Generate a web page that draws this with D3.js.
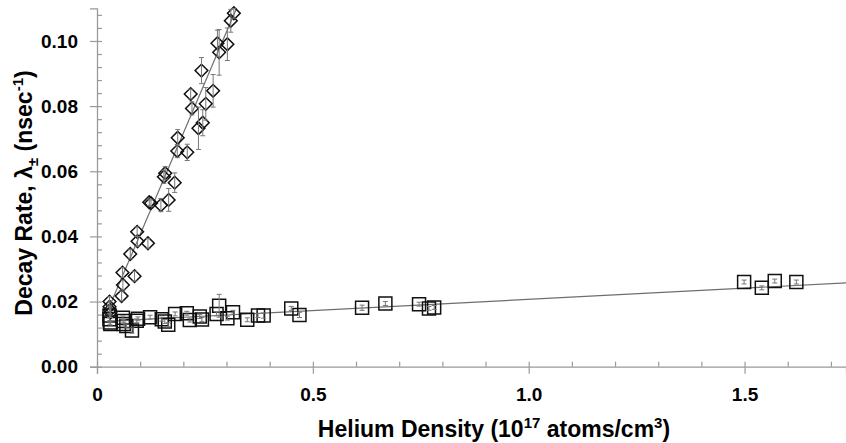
<!DOCTYPE html>
<html>
<head>
<meta charset="utf-8">
<script src="https://cdn.jsdelivr.net/npm/d3@7"></script>
<style>
  body { margin: 0; background: #fff; }
  svg { display: block; font-family: "Liberation Sans", Arial, sans-serif; }
</style>
</head>
<body>
<svg width="846" height="443"></svg>
<script>
// fast decay series (diamonds): density, rate, error
const fastX = [0.317, 0.310, 0.279, 0.302, 0.283, 0.242, 0.269, 0.217, 0.252, 0.220, 0.245,
  0.235, 0.187, 0.186, 0.209, 0.158, 0.155, 0.180, 0.121, 0.125, 0.148, 0.166, 0.093, 0.094,
  0.118, 0.077, 0.059, 0.087, 0.060, 0.057, 0.029, 0.029, 0.030, 0.031]
const fastY = [0.1085, 0.1062, 0.0993, 0.0990, 0.0965, 0.0909, 0.0847, 0.0837, 0.0807, 0.0793, 0.0749,
  0.0732, 0.0703, 0.0662, 0.0658, 0.0594, 0.0583, 0.0565, 0.0505, 0.0502, 0.0496, 0.0512, 0.0414, 0.0385,
  0.0379, 0.0346, 0.0289, 0.0278, 0.0251, 0.0217, 0.0200, 0.0184, 0.0174, 0.0166]
const fastErr = [0.0015, 0.0035, 0.004, 0.005, 0.007, 0.004, 0.005, 0.0015, 0.005, 0.002, 0.004,
  0.0065, 0.0025, 0.002, 0.0025, 0.002, 0.002, 0.003, 0.001, 0.001, 0.002, 0.0035, 0.0015, 0.0015,
  0.0015, 0.0015, 0.0015, 0.0015, 0.0015, 0.0015, 0.0015, 0.0015, 0.0015, 0.0015]

// slow decay series (squares)
const slowX = [0.029, 0.029, 0.030, 0.031, 0.060, 0.062, 0.062, 0.068, 0.081, 0.092, 0.095,
  0.123, 0.150, 0.157, 0.165, 0.181, 0.208, 0.215, 0.238, 0.243, 0.283, 0.277, 0.302, 0.315,
  0.348, 0.373, 0.386, 0.450, 0.469, 0.614, 0.668, 0.746, 0.769, 0.781, 1.499, 1.540, 1.570, 1.620]
const slowY = [0.0157, 0.0146, 0.0136, 0.0131, 0.0150, 0.0140, 0.0131, 0.0125, 0.0111, 0.0141, 0.0147,
  0.0152, 0.0146, 0.0139, 0.0129, 0.0162, 0.0164, 0.0143, 0.0154, 0.0145, 0.0187, 0.0162, 0.0149, 0.0167,
  0.0144, 0.0157, 0.0157, 0.0179, 0.0159, 0.0181, 0.0194, 0.0192, 0.0179, 0.0182, 0.0260, 0.0242, 0.0263, 0.0260]
const slowErr = [0.0006, 0.0006, 0.0006, 0.0006, 0.0006, 0.0006, 0.0006, 0.0006, 0.0008, 0.0006, 0.0006,
  0.0006, 0.0006, 0.0006, 0.0006, 0.0006, 0.0006, 0.0006, 0.0006, 0.0006, 0.0035, 0.0006, 0.0006, 0.0006,
  0.0006, 0.0006, 0.0008, 0.0006, 0.0008, 0.0008, 0.0006, 0.0006, 0.0006, 0.0006, 0.0006, 0.0006, 0.0006, 0.0006]

// linear fits: [intercept, slope, xStart, xEnd]
const fastFit = [0.0095, 0.311, 0.029, 0.3235]
const slowFit = [0.0138, 0.00688, 0.029, 1.735]

const yTicks = [0, 0.02, 0.04, 0.06, 0.08, 0.10]
const xTicks = [0, 0.5, 1.0, 1.5]

var svg = d3.select("svg")

var x = d3.scaleLinear().domain([0, 1.735]).range([97, 846])
var y = d3.scaleLinear().domain([0, 0.110]).range([366.7, 8.4])

var axisColor = "#9a9a9a"

// y axis: major ticks outside, minor ticks inside
var yMinor = svg.append("g")
  .attr("transform", "translate(97,0)")
  .call(d3.axisLeft(y).tickValues(d3.range(0, 0.1101, 0.004)).tickSize(-5).tickFormat(""))
var yMajor = svg.append("g")
  .attr("transform", "translate(97,0)")
  .call(d3.axisLeft(y).tickValues(yTicks).tickSize(7).tickPadding(12).tickFormat(d3.format(".2f")))

// x axis: major ticks outside, minor ticks inside
var xMinor = svg.append("g")
  .attr("transform", "translate(0,366.7)")
  .call(d3.axisBottom(x).tickValues(d3.range(0, 1.73, 0.1)).tickSize(-5).tickFormat(""))
var xMajor = svg.append("g")
  .attr("transform", "translate(0,366.7)")
  .call(d3.axisBottom(x).tickValues(xTicks).tickSize(7).tickPadding(14)
    .tickFormat(d => d === 0 ? "0" : d3.format(".1f")(d)))

svg.selectAll(".domain").attr("stroke", axisColor).attr("stroke-width", 1.3)
svg.selectAll(".tick line").attr("stroke", axisColor).attr("stroke-width", 1.2)
svg.selectAll(".tick text")
  .attr("fill", "#000")
  .style("font-size", "19px")
  .style("font-weight", "bold")
  .style("font-family", "'Liberation Sans', Arial, sans-serif")
yMinor.select(".domain").remove()
xMinor.select(".domain").remove()

// fit lines
var fitLine = d3.line().x(d => x(d[0])).y(d => y(d[1]))
var fits = [fastFit, slowFit]
svg.append("g").selectAll("path")
  .data(fits)
  .join("path")
  .attr("d", f => fitLine([[f[2], f[0] + f[1] * f[2]], [f[3], f[0] + f[1] * f[3]]]))
  .attr("fill", "none")
  .attr("stroke", "#6e6e6e")
  .attr("stroke-width", 1.2)

var slowData = slowX.map((d, i) => ({ x: d, y: slowY[i], e: slowErr[i] }))
var fastData = fastX.map((d, i) => ({ x: d, y: fastY[i], e: fastErr[i] }))

// squares
svg.append("g").selectAll("path")
  .data(slowData)
  .join("path")
  .attr("d", d3.symbol(d3.symbolSquare, 13 * 13))
  .attr("transform", d => "translate(" + x(d.x) + "," + y(d.y) + ")")
  .attr("fill", "none")
  .attr("stroke", "#111")
  .attr("stroke-width", 1.5)

// diamonds
svg.append("g").selectAll("path")
  .data(fastData)
  .join("path")
  .attr("d", d3.symbol(d3.symbolSquare, 9 * 9))
  .attr("transform", d => "translate(" + x(d.x) + "," + y(d.y) + ") rotate(45)")
  .attr("fill", "none")
  .attr("stroke", "#111")
  .attr("stroke-width", 1.5)

// error bars
function errorBars(data) {
  var g = svg.append("g").attr("stroke", "#777").attr("stroke-width", 1)
  g.selectAll("line.v")
    .data(data)
    .join("line")
    .attr("class", "v")
    .attr("x1", d => x(d.x)).attr("x2", d => x(d.x))
    .attr("y1", d => y(d.y - d.e)).attr("y2", d => y(d.y + d.e))
  g.selectAll("line.top")
    .data(data)
    .join("line")
    .attr("class", "top")
    .attr("x1", d => x(d.x) - 2.5).attr("x2", d => x(d.x) + 2.5)
    .attr("y1", d => y(d.y + d.e)).attr("y2", d => y(d.y + d.e))
  g.selectAll("line.bot")
    .data(data)
    .join("line")
    .attr("class", "bot")
    .attr("x1", d => x(d.x) - 2.5).attr("x2", d => x(d.x) + 2.5)
    .attr("y1", d => y(d.y - d.e)).attr("y2", d => y(d.y - d.e))
}
errorBars(slowData)
errorBars(fastData)

// axis titles
svg.append("text")
  .attr("transform", "translate(32,193) rotate(-90)")
  .attr("text-anchor", "middle")
  .style("font-size", "23px")
  .style("font-weight", "bold")
  .html('Decay Rate, λ<tspan dy="6" font-size="15px">±</tspan><tspan dy="-6"> (nsec</tspan><tspan dy="-9" font-size="15px">-1</tspan><tspan dy="9">)</tspan>')

svg.append("text")
  .attr("x", 494)
  .attr("y", 437)
  .attr("text-anchor", "middle")
  .style("font-size", "23px")
  .style("font-weight", "bold")
  .html('Helium Density (10<tspan dy="-9" font-size="15px">17</tspan><tspan dy="9"> atoms/cm</tspan><tspan dy="-9" font-size="15px">3</tspan><tspan dy="9">)</tspan>')
</script>
</body>
</html>
